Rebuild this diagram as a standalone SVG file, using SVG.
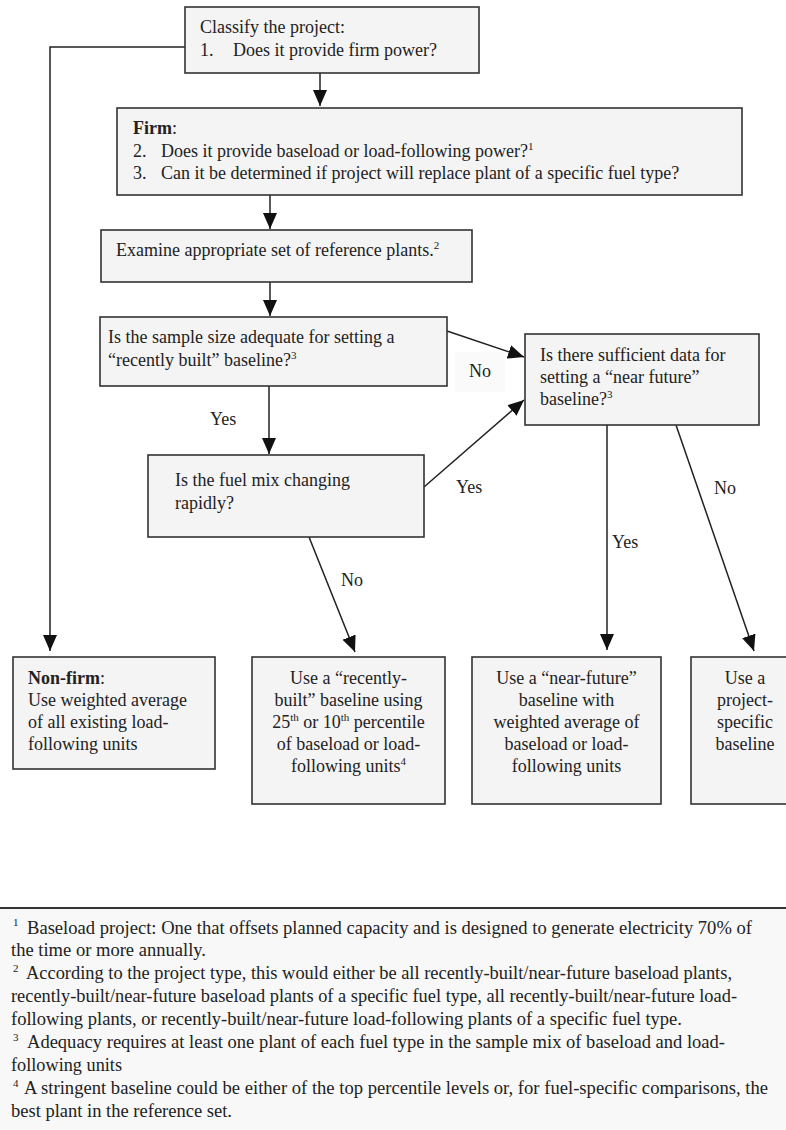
<svg xmlns="http://www.w3.org/2000/svg" width="786" height="1130" viewBox="0 0 786 1130">
<style>
text{font-family:"Liberation Serif","Times New Roman",serif;font-size:18px;fill:#222}
.box{fill:#f4f4f4;stroke:#333;stroke-width:1.6}
.c{stroke:#222;stroke-width:1.5;fill:none}
.m{text-anchor:middle}
.b{font-weight:bold}
.sup{font-size:11px}
.fn{font-size:19px}
.fs{font-size:11px}
</style>
<defs>
<marker id="ah" markerUnits="userSpaceOnUse" markerWidth="16" markerHeight="14" refX="16" refY="7" orient="auto">
<path d="M0,0 L16,7 L0,14 z" fill="#111"/>
</marker>
</defs>
<rect width="786" height="1130" fill="#fff"/>

<g id="connectors">
<line class="c" x1="320" y1="73" x2="320" y2="106" marker-end="url(#ah)"/>
<polyline class="c" points="185,47 50,47 50,651" marker-end="url(#ah)"/>
<line class="c" x1="270" y1="195" x2="270" y2="229" marker-end="url(#ah)"/>
<line class="c" x1="270" y1="282" x2="270" y2="316" marker-end="url(#ah)"/>
<line class="c" x1="269" y1="386" x2="269" y2="454" marker-end="url(#ah)"/>
<line class="c" x1="447" y1="331" x2="524" y2="357" marker-end="url(#ah)"/>
<line class="c" x1="424" y1="487" x2="524" y2="400" marker-end="url(#ah)"/>
<line class="c" x1="309" y1="537" x2="355" y2="652" marker-end="url(#ah)"/>
<line class="c" x1="607" y1="425" x2="607" y2="650" marker-end="url(#ah)"/>
<line class="c" x1="676" y1="425" x2="754" y2="651" marker-end="url(#ah)"/>
<rect x="455" y="352" width="50" height="40" fill="#fafafa"/>
<text x="469" y="377">No</text>
<text x="210" y="425">Yes</text>
<text x="456" y="493">Yes</text>
<text x="341" y="586">No</text>
<text x="612" y="548">Yes</text>
<text x="714" y="494">No</text>
</g>

<g id="classify">
<rect class="box" x="185" y="7" width="294" height="66"/>
<text x="200" y="33">Classify the project:</text>
<text x="200" y="56">1.</text>
<text x="233" y="56">Does it provide firm power?</text>
</g>

<g id="firm">
<rect class="box" x="117" y="108" width="625" height="87"/>
<text x="133" y="134"><tspan class="b">Firm</tspan>:</text>
<text x="133" y="157">2.</text>
<text x="161" y="157">Does it provide baseload or load-following power?<tspan class="sup" dy="-7">1</tspan></text>
<text x="133" y="179">3.</text>
<text x="161" y="179">Can it be determined if project will replace plant of a specific fuel type?</text>
</g>

<g id="examine">
<rect class="box" x="101" y="230" width="371" height="52"/>
<text x="116" y="256">Examine appropriate set of reference plants.<tspan class="sup" dy="-7">2</tspan></text>
</g>

<g id="sample">
<rect class="box" x="100" y="317" width="347" height="69"/>
<text x="108" y="343">Is the sample size adequate for setting a</text>
<text x="108" y="366">“recently built” baseline?<tspan class="sup" dy="-7">3</tspan></text>
</g>

<g id="nearq">
<rect class="box" x="525" y="334" width="234" height="91"/>
<text x="540" y="361">Is there sufficient data for</text>
<text x="540" y="383">setting a “near future”</text>
<text x="540" y="405">baseline?<tspan class="sup" dy="-7">3</tspan></text>
</g>

<g id="fuel">
<rect class="box" x="148" y="455" width="276" height="82"/>
<text x="175" y="486">Is the fuel mix changing</text>
<text x="175" y="509">rapidly?</text>
</g>

<g id="nonfirm">
<rect class="box" x="13" y="657" width="202" height="112"/>
<text x="28" y="684"><tspan class="b">Non-firm</tspan>:</text>
<text x="28" y="706">Use weighted average</text>
<text x="28" y="728">of all existing load-</text>
<text x="28" y="750">following units</text>
</g>

<g id="recent">
<rect class="box" x="252" y="657" width="193" height="147"/>
<text class="m" x="348.5" y="684">Use a “recently-</text>
<text class="m" x="348.5" y="706">built” baseline using</text>
<text class="m" x="348.5" y="728">25<tspan class="sup" dy="-7">th</tspan><tspan dy="7"> or 10</tspan><tspan class="sup" dy="-7">th</tspan><tspan dy="7"> percentile</tspan></text>
<text class="m" x="348.5" y="750">of baseload or load-</text>
<text class="m" x="348.5" y="772">following units<tspan class="sup" dy="-7">4</tspan></text>
</g>

<g id="nearbox">
<rect class="box" x="472" y="657" width="189" height="147"/>
<text class="m" x="566.5" y="684">Use a “near-future”</text>
<text class="m" x="566.5" y="706">baseline with</text>
<text class="m" x="566.5" y="728">weighted average of</text>
<text class="m" x="566.5" y="750">baseload or load-</text>
<text class="m" x="566.5" y="772">following units</text>
</g>

<g id="project">
<rect class="box" x="691" y="657" width="110" height="147"/>
<text class="m" x="745" y="684">Use a</text>
<text class="m" x="745" y="706">project-</text>
<text class="m" x="745" y="728">specific</text>
<text class="m" x="745" y="750">baseline</text>
</g>

<g id="footnotes">
<rect x="0" y="908" width="786" height="222" fill="#f8f8f8"/>
<line x1="0" y1="908" x2="786" y2="908" stroke="#333" stroke-width="2"/>
<text class="fs" x="13" y="926">1</text>
<text class="fn" x="27" y="934" textLength="725" lengthAdjust="spacingAndGlyphs">Baseload project: One that offsets planned capacity and is designed to generate electricity 70% of</text>
<text class="fn" x="11" y="956" textLength="195" lengthAdjust="spacingAndGlyphs">the time or more annually.</text>
<text class="fs" x="13" y="972">2</text>
<text class="fn" x="26" y="979" textLength="706" lengthAdjust="spacingAndGlyphs">According to the project type, this would either be all recently-built/near-future baseload plants,</text>
<text class="fn" x="11" y="1002" textLength="726" lengthAdjust="spacingAndGlyphs">recently-built/near-future baseload plants of a specific fuel type, all recently-built/near-future load-</text>
<text class="fn" x="11" y="1025" textLength="671" lengthAdjust="spacingAndGlyphs">following plants, or recently-built/near-future load-following plants of a specific fuel type.</text>
<text class="fs" x="13" y="1041">3</text>
<text class="fn" x="27" y="1048" textLength="698" lengthAdjust="spacingAndGlyphs">Adequacy requires at least one plant of each fuel type in the sample mix of baseload and load-</text>
<text class="fn" x="11" y="1071" textLength="111" lengthAdjust="spacingAndGlyphs">following units</text>
<text class="fs" x="13" y="1087">4</text>
<text class="fn" x="24" y="1094" textLength="744" lengthAdjust="spacingAndGlyphs">A stringent baseline could be either of the top percentile levels or, for fuel-specific comparisons, the</text>
<text class="fn" x="11" y="1117" textLength="221" lengthAdjust="spacingAndGlyphs">best plant in the reference set.</text>
</g>
</svg>
